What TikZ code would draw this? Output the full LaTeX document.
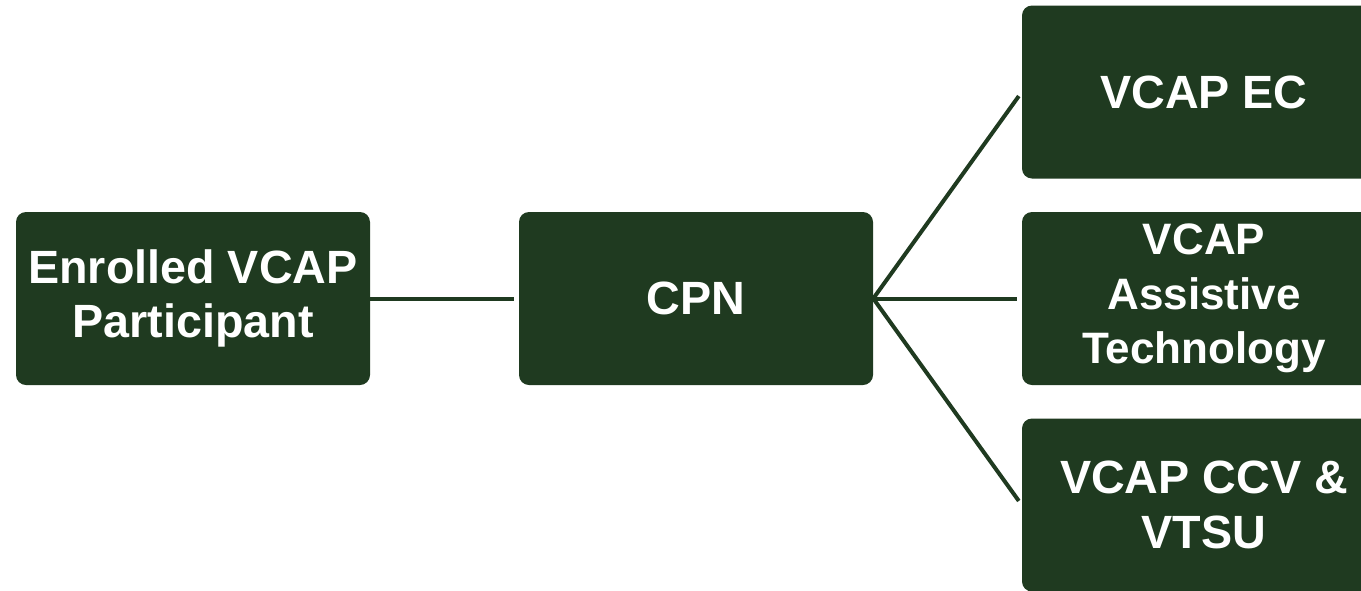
\documentclass[tikz,border=0pt]{standalone}
\usepackage{fontspec}
\setmainfont{Liberation Sans}
\definecolor{vgreen}{RGB}{31,58,32}
\tikzset{
  box/.style={fill=vgreen, rounded corners=7.5pt, minimum width=265.5pt,
    minimum height=129.75pt, inner sep=0pt, text=white, align=center,
    font=\fontsize{35}{41}\selectfont\bfseries},
  wide box/.style={box, minimum width=273pt},
  link/.style={draw=vgreen, line width=3pt, shorten >=3.75pt}
}
\begin{document}
\begin{tikzpicture}[x=0.75pt, y=-0.75pt]
      \clip (0,0) rectangle (1361,590);
      %
      \node[box] (enrolled) at (193,298.5) {Enrolled VCAP\\Participant};
      \node[box] (cpn) at (696,298.5) {CPN};
      %%
      \node[wide box] (ec) at (1204,92) {VCAP EC};
      \node[wide box, font=\fontsize{33}{41}\selectfont\bfseries] (assistive)
        at (1204,298.5) {VCAP\\Assistive\\Technology};
      \node[wide box] (ccv) at (1204,505) {VCAP CCV \&\\VTSU};
      %
      \draw[link] (enrolled.east) -- (cpn.west);
      \draw[link] (cpn.east) -- (ec.west);
      \draw[link] (cpn.east) -- (assistive.west);
      \draw[link] (cpn.east) -- (ccv.west);
      %
    \end{tikzpicture}
\end{document}
